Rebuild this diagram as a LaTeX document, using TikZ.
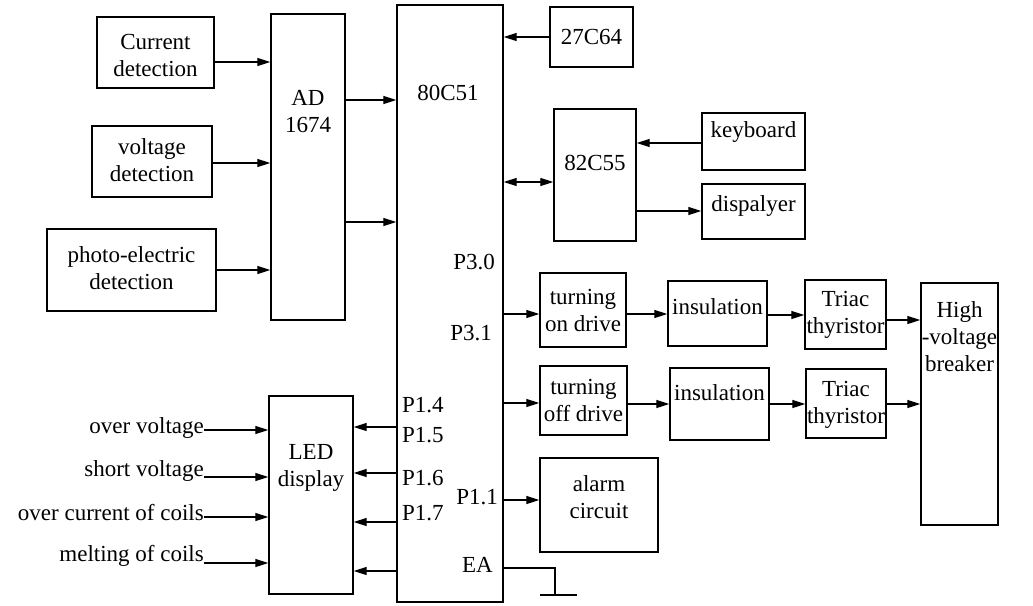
\documentclass[tikz,border=0pt]{standalone}
\usepackage{fontspec}
\setmainfont{Liberation Serif}
\usetikzlibrary{arrows.meta}
\begin{document}
\begin{tikzpicture}[x=1pt,y=-1pt,
  box/.style={draw, line width=1.4pt, inner sep=0pt},
  txt/.style={align=center, inner sep=0pt, font=\fontsize{23}{27}\selectfont},
  arr/.style={line width=1.3pt, -{Triangle[length=13pt,width=8pt]}},
  darr/.style={line width=1.3pt, {Triangle[length=13pt,width=8pt]}-{Triangle[length=13pt,width=8pt]}},
  ln/.style={line width=1.3pt}]
\useasboundingbox (0,0) rectangle (1033,605);
% boxes
\node[box, minimum width=117pt, minimum height=71pt] (cur) at (155.5,52.5) {};
\node[box, minimum width=120pt, minimum height=71pt] (volt) at (152,161.5) {};
\node[box, minimum width=169pt, minimum height=82pt] (photo) at (131.5,270) {};
\node[box, minimum width=74pt, minimum height=306pt] (ad) at (308,167) {};
\node[box, minimum width=106pt, minimum height=597pt] (mcu) at (450,303.5) {};
\node[box, minimum width=83pt, minimum height=60pt] (rom) at (591.5,37) {};
\node[box, minimum width=82pt, minimum height=132pt] (ppi) at (595,175) {};
\node[box, minimum width=103pt, minimum height=57pt] (kb) at (753.5,141.5) {};
\node[box, minimum width=103pt, minimum height=55pt] (disp) at (753.5,211.5) {};
\node[box, minimum width=86pt, minimum height=74pt] (on) at (583,310) {};
\node[box, minimum width=99pt, minimum height=65pt] (ins1) at (717.5,313.5) {};
\node[box, minimum width=81pt, minimum height=69pt] (tri1) at (845.5,314.5) {};
\node[box, minimum width=77pt, minimum height=242pt] (hv) at (959.5,404) {};
\node[box, minimum width=87pt, minimum height=69pt] (off) at (583.5,400.5) {};
\node[box, minimum width=99pt, minimum height=72pt] (ins2) at (719.5,404) {};
\node[box, minimum width=80pt, minimum height=69pt] (tri2) at (846,403.5) {};
\node[box, minimum width=118pt, minimum height=94pt] (alarm) at (599,505) {};
\node[box, minimum width=84pt, minimum height=198pt] (led) at (311,495) {};
% box texts
\node[txt] (tcur) at (155.5,55) {Current\\detection};
\node[txt] (tvolt) at (152,160) {voltage\\detection};
\node[txt] (tphoto) at (131.5,268) {photo-electric\\detection};
\node[txt] (tad) at (308,112) {AD\\1674};
\node[txt] (tmcu) at (448,93) {80C51};
\node[txt] (trom) at (591.5,37) {27C64};
\node[txt] (tppi) at (595,163) {82C55};
\node[txt] (tkb) at (753.5,132) {keyboard};
\node[txt] (tdisp) at (753.5,206) {dispalyer};
\node[txt] (ton) at (583,310) {turning\\on drive};
\node[txt] (tins1) at (717.5,307) {insulation};
\node[txt] (ttri1) at (845.5,315) {Triac\\thyristor};
\node[txt] (thv) at (959.5,337) {High\\-voltage\\breaker};
\node[txt] (toff) at (583.5,400) {turning\\off drive};
\node[txt] (tins2) at (719.5,393) {insulation};
\node[txt] (ttri2) at (846,405) {Triac\\thyristor};
\node[txt] (talarm) at (599,497) {alarm\\circuit};
\node[txt] (tled) at (311,468) {LED\\display};
% pin labels
\node[txt, anchor=east] (p30) at (495,262) {P3.0};
\node[txt, anchor=east] (p31) at (492,333) {P3.1};
\node[txt, anchor=west] (p14) at (402,405) {P1.4};
\node[txt, anchor=west] (p15) at (402,435) {P1.5};
\node[txt, anchor=west] (p16) at (402,478) {P1.6};
\node[txt, anchor=west] (p17) at (402,513) {P1.7};
\node[txt, anchor=east] (p11) at (498,497) {P1.1};
\node[txt, anchor=east] (ea) at (493,565) {EA};
% left input labels
\node[txt, anchor=east] (iov) at (204,428) {over voltage};
\node[txt, anchor=east] (isv) at (204,471) {short voltage};
\node[txt, anchor=east] (ioc) at (204,513) {over current of coils};
\node[txt, anchor=east] (imc) at (204,556) {melting of coils};
% connectors
\draw[arr] (cur.east |- 0,62) -- (ad.west |- 0,62);
\draw[arr] (volt.east |- 0,163) -- (ad.west |- 0,163);
\draw[arr] (photo.east |- 0,270) -- (ad.west |- 0,270);
\draw[arr] (ad.east |- 0,100) -- (mcu.west |- 0,100);
\draw[arr] (ad.east |- 0,222) -- (mcu.west |- 0,222);
\draw[arr] (rom.west |- 0,37) -- (mcu.east |- 0,37);
\draw[darr] (mcu.east |- 0,182) -- (ppi.west |- 0,182);
\draw[arr] (kb.west |- 0,143) -- (ppi.east |- 0,143);
\draw[arr] (ppi.east |- 0,211) -- (disp.west |- 0,211);
\draw[arr] (mcu.east |- 0,314) -- (on.west |- 0,314);
\draw[arr] (on.east |- 0,314) -- (ins1.west |- 0,314);
\draw[arr] (ins1.east |- 0,315) -- (tri1.west |- 0,315);
\draw[arr] (tri1.east |- 0,320) -- (hv.west |- 0,320);
\draw[arr] (mcu.east |- 0,403) -- (off.west |- 0,403);
\draw[arr] (off.east |- 0,404) -- (ins2.west |- 0,404);
\draw[arr] (ins2.east |- 0,404) -- (tri2.west |- 0,404);
\draw[arr] (tri2.east |- 0,404) -- (hv.west |- 0,404);
\draw[arr] (mcu.east |- 0,500) -- (alarm.west |- 0,500);
\draw[arr] (mcu.west |- 0,427) -- (led.east |- 0,427);
\draw[arr] (mcu.west |- 0,473) -- (led.east |- 0,473);
\draw[arr] (mcu.west |- 0,522) -- (led.east |- 0,522);
\draw[arr] (mcu.west |- 0,571) -- (led.east |- 0,571);
\draw[arr] (iov.east |- 0,430) -- (led.west |- 0,430);
\draw[arr] (isv.east |- 0,477) -- (led.west |- 0,477);
\draw[arr] (ioc.east |- 0,517) -- (led.west |- 0,517);
\draw[arr] (imc.east |- 0,563) -- (led.west |- 0,563);
% ground
\coordinate (gnd) at (555,595);
\coordinate (gl) at (540,595);
\coordinate (gr) at (577,595);
\draw[ln] (mcu.east |- 0,568) -| (gnd);
\draw[ln] (gl) -- (gr);
\end{tikzpicture}
\end{document}
